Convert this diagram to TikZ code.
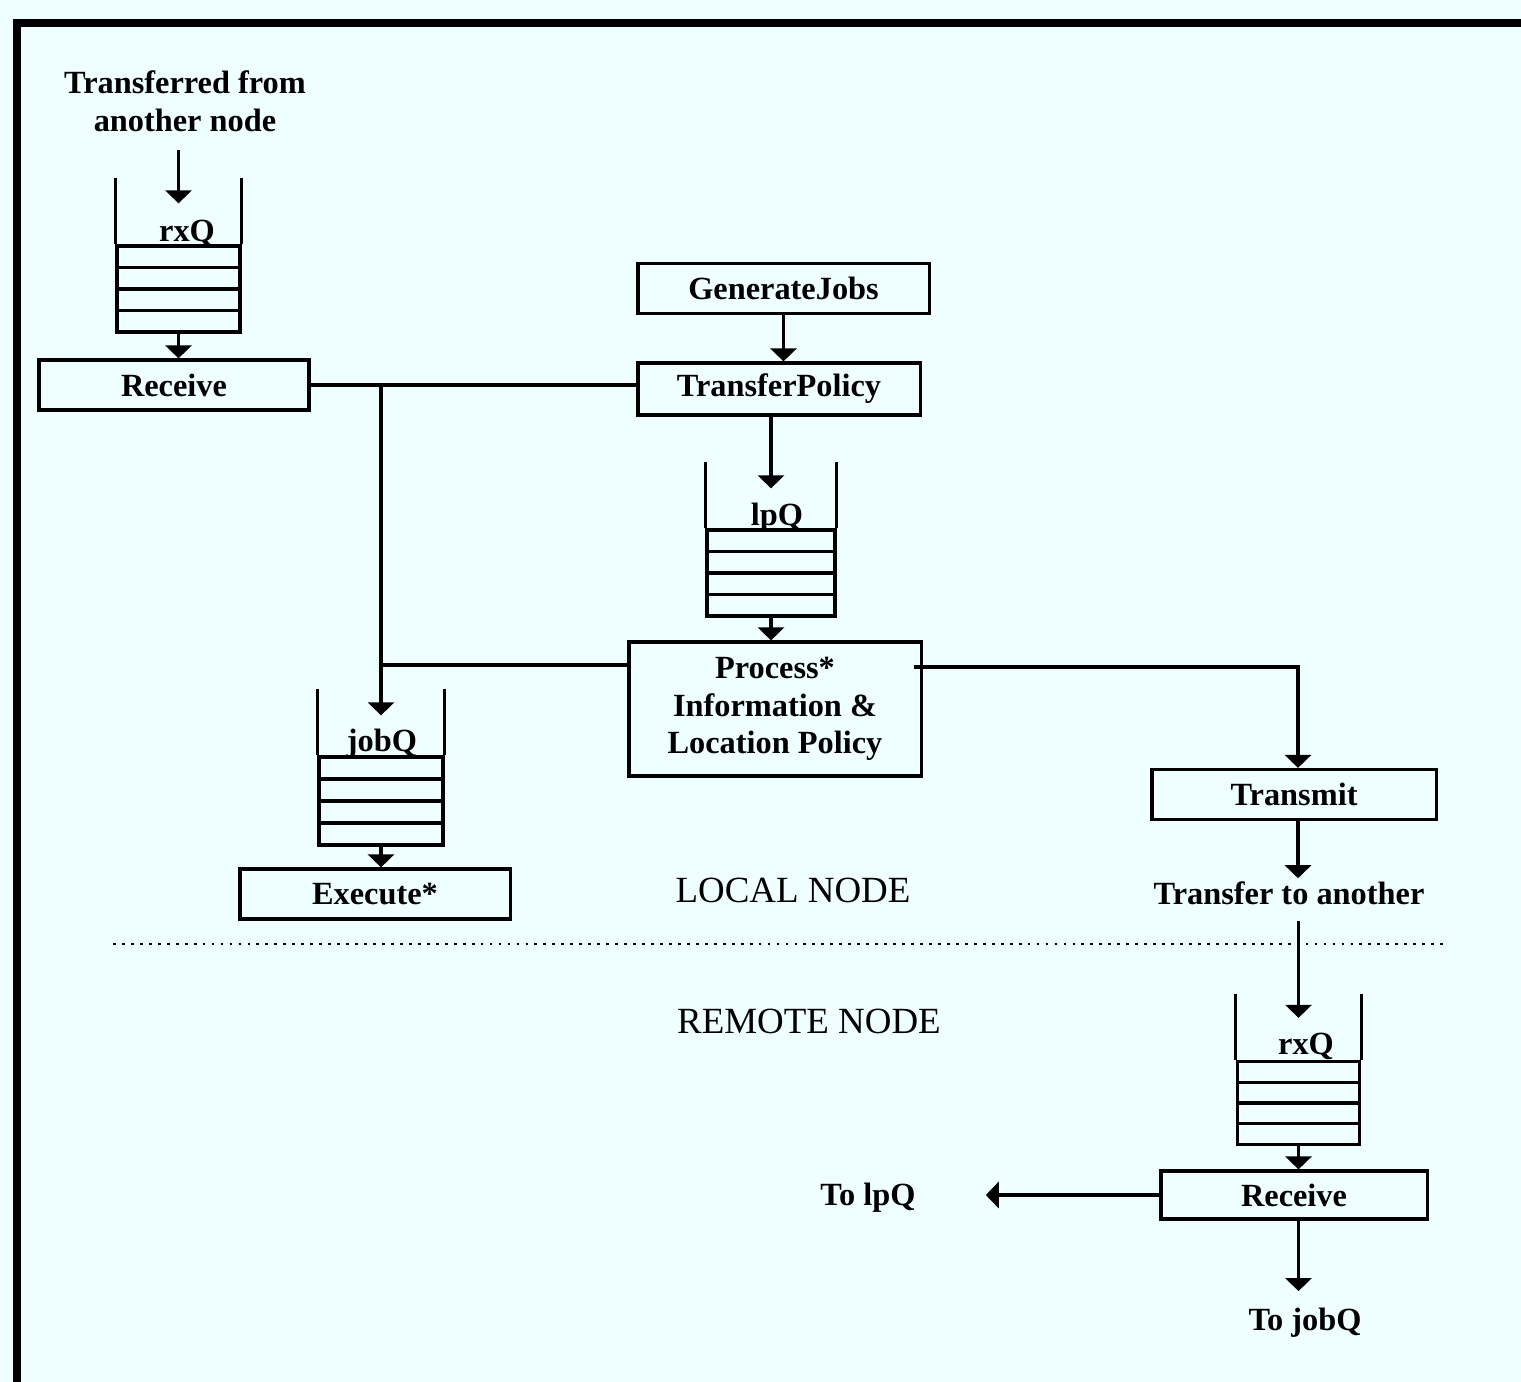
\documentclass[tikz,border=0pt]{standalone}
\usepackage{fontspec}
\setmainfont{Liberation Serif}
\usetikzlibrary{arrows.meta,calc}
\definecolor{paper}{RGB}{239,255,255}

\begin{document}
\begin{tikzpicture}[
x=0.01cm, y=-0.01cm,
line/.style={line width=0.9pt},
arrow/.style={line, -{Triangle[width=2.6mm, length=1.3mm]}},
box/.style={draw, line width=0.9pt, minimum height=0.5cm, inner sep=0pt, align=center, font=\fontsize{9.2}{10.7}\selectfont\bfseries},
lbl/.style={align=center, inner sep=1pt, font=\fontsize{9.2}{10.7}\selectfont\bfseries},
zone/.style={inner sep=0pt, font=\fontsize{10.5}{12}\selectfont},
qstack/.style={draw, line width=0.9pt, minimum width=1.23cm, minimum height=0.86cm, inner sep=0pt,
  path picture={\foreach \k in {0.25,0.5,0.75}
    \draw[line] ($(path picture bounding box.north west)!\k!(path picture bounding box.south west)$)
      -- ($(path picture bounding box.north east)!\k!(path picture bounding box.south east)$);}},
sep/.style={line width=0.7pt, dash pattern=on 0.8pt off 1.75pt}
]
\fill[paper] (0,0) rectangle (1521,1382);
\useasboundingbox (0,0) rectangle (1521,1382);
\draw[line width=2pt] (17,1382) -- (17,23) -- (1521,23);

% local node
\node[lbl] (src) at (185,101) {Transferred from\\another node};
\node[qstack] (rxq) at (178.5,289) {};
\node[lbl] (rxqlbl) at (187,233) {rxQ};
\node[box, minimum width=2.70cm] (recv) at (174,385) {Receive};

\node[box, minimum width=2.91cm] (gen) at (783.5,288.5) {GenerateJobs};
\node[box, minimum width=2.82cm, minimum height=0.52cm] (tpol) at (779,389) {TransferPolicy};
\node[qstack, minimum width=1.28cm] (lpq) at (771,573) {};
\node[lbl] (lpqlbl) at (777,518) {lpQ};
\node[box, minimum width=2.92cm, minimum height=1.34cm] (proc) at (775,709) {Process*\\Information \&\\Location Policy};

\node[qstack, minimum width=1.24cm, minimum height=0.88cm] (jobq) at (381,801) {};
\node[lbl] (jobqlbl) at (382,744) {jobQ};
\node[box, minimum width=2.70cm] (exec) at (375,894) {Execute*};

\node[box, minimum width=2.84cm] (xmit) at (1294,794.5) {Transmit};
\node[lbl] (dst) at (1289,893) {Transfer to another};

\node[zone] (local) at (793,890) {LOCAL NODE};
\draw[sep] (113,944) -- (1443,944);
\node[zone] (remote) at (809,1021) {REMOTE NODE};

% remote node
\node[qstack, minimum width=1.22cm, minimum height=0.83cm] (rxqr) at (1298.5,1103) {};
\node[lbl] (rxqrlbl) at (1306,1046) {rxQ};
\node[box, minimum width=2.66cm, minimum height=0.48cm] (recvr) at (1294,1195) {Receive};
\node[lbl] (tolpq) at (868,1198) {To lpQ};
\node[lbl] (tojobq) at (1305,1323) {To jobQ};

% queue walls
\foreach \q in {rxq,lpq,jobq,rxqr}
  \draw[line] (\q.north west) -- ++(0,0.66cm) (\q.north east) -- ++(0,0.66cm);

% connectors
\draw[arrow, shorten <=0.14cm] (src.south -| rxq) -- ([yshift=0.41cm]rxq.north);
\draw[arrow] (rxq.south) -- (rxq.south |- recv.north);
\draw[line] (recv.east) -- (recv.east -| tpol.west);
\draw[arrow] (recv.east -| jobq) -- ([yshift=0.4cm]jobq.north);
\draw[arrow] (gen.south) -- (gen.south |- tpol.north);
\draw[arrow] (tpol.south -| lpq) -- ([yshift=0.4cm]lpq.north);
\draw[arrow] (lpq.south) -- (lpq.south |- proc.north);
\draw[line] ([yshift=0.44cm]proc.west) -- ([yshift=0.44cm]proc.west -| jobq);
\draw[arrow] ([yshift=0.42cm, xshift=-0.09cm]proc.east) -| ([xshift=0.04cm]xmit.north);
\draw[arrow] (jobq.south) -- (jobq.south |- exec.north);
\draw[arrow] ([xshift=0.04cm]xmit.south) -- ([xshift=0.04cm, yshift=-0.01cm]xmit.south |- dst.north);
\draw[arrow, shorten <=0.12cm] (dst.south -| rxqr) -- ([yshift=0.42cm]rxqr.north);
\draw[arrow] (rxqr.south) -- (rxqr.south |- recvr.north);
\draw[arrow, shorten >=0.66cm] (recvr.west) -- (recvr.west -| tolpq.east);
\draw[arrow] (recvr.south -| rxqr) -- ([yshift=0.13cm]tojobq.north -| rxqr);
\end{tikzpicture}
\end{document}
